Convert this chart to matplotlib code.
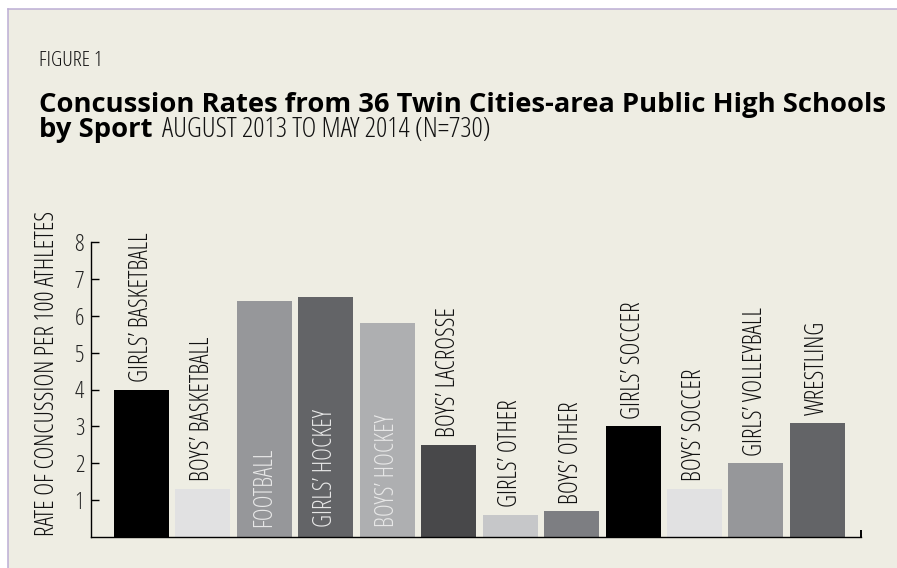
import matplotlib
matplotlib.use("Agg")
import matplotlib.pyplot as plt
from matplotlib.font_manager import FontProperties
from matplotlib.patches import Rectangle
from matplotlib.lines import Line2D

# ---- data ----
sports = ["GIRLS\u2019 BASKETBALL", "BOYS\u2019 BASKETBALL", "FOOTBALL", "GIRLS\u2019 HOCKEY",
          "BOYS\u2019 HOCKEY", "BOYS\u2019 LACROSSE", "GIRLS\u2019 OTHER", "BOYS\u2019 OTHER",
          "GIRLS\u2019 SOCCER", "BOYS\u2019 SOCCER", "GIRLS\u2019 VOLLEYBALL", "WRESTLING"]
rates = [4.0, 1.3, 6.4, 6.5, 5.8, 2.5, 0.6, 0.7, 3.0, 1.3, 2.0, 3.1]
label_inside = [False, False, True, True, True, False, False, False, False, False, False, False]
bar_colors = ["#000000", "#e1e1e2", "#96979a", "#636467", "#aeafb1", "#48484a",
              "#c6c7c9", "#7d7e82", "#000000", "#e1e1e2", "#96979a", "#636467"]
yticks = [1, 2, 3, 4, 5, 6, 7, 8]

W, H = 897, 568
fig = plt.figure(figsize=(W / 100, H / 100), dpi=100, facecolor="white")
fig.canvas.draw()
R = fig.canvas.get_renderer()

LIGHT = dict(family="Open Sans", weight=300, stretch="semi-condensed")
BOLD = dict(family="Open Sans", weight="bold")


def fx(px):
    return px / W


def fy(py):
    return 1 - py / H


def fitted(text, target_len, style):
    """Font properties of the given style sized so the text spans target_len pixels."""
    fp = FontProperties(size=10, **style)
    t = fig.text(0, 0, text, fontproperties=fp)
    w = t.get_window_extent(R).width
    t.remove()
    return FontProperties(size=10 * target_len / w, **style)


# panel background with border (top and left edges visible)
fig.add_artist(Rectangle((fx(8), 0), 1 - fx(8), fy(9), transform=fig.transFigure,
                         facecolor="#eeede3", edgecolor="none", zorder=-5))
fig.add_artist(Line2D([fx(8), 1], [fy(9), fy(9)], transform=fig.transFigure, color="#bcaed4",
                      lw=1.1, zorder=-4))
fig.add_artist(Line2D([fx(8), fx(8)], [0, fy(9)], transform=fig.transFigure, color="#bcaed4",
                      lw=1.1, zorder=-4))

fig.text(fx(39), fy(66), "FIGURE 1", fontproperties=fitted("FIGURE 1", 64, LIGHT),
         color="#111111", ha="left", va="baseline")

title1 = "Concussion Rates from 36 Twin Cities-area Public High Schools"
fp_bold = fitted(title1, 847, BOLD)
fig.text(fx(39), fy(112), title1, fontproperties=fp_bold, color="#000000", ha="left", va="baseline")
t2 = fig.text(fx(39), fy(137), "by Sport", fontproperties=fp_bold, color="#000000",
              ha="left", va="baseline")
bb2 = t2.get_window_extent(R)
sub = "AUGUST 2013 TO MAY 2014 (N=730)"
fig.text(fx(bb2.x1 + 9), fy(137), sub, fontproperties=fitted(sub, 328, LIGHT), color="#111111",
         ha="left", va="baseline")

# axes
x0, x1 = -0.82, 11.71
ax_left, ax_right = 91, 861
y_zero, y_eight = 537, 242
ax = fig.add_axes([fx(ax_left), fy(y_zero), (ax_right - ax_left) / W, (y_zero - y_eight) / H])
ax.set_facecolor("none")
xs = list(range(len(sports)))
ax.bar(xs, rates, width=0.895, color=bar_colors, zorder=2)
ax.set_xlim(x0, x1)
ax.set_ylim(0, 8)
for sp in ["top", "right"]:
    ax.spines[sp].set_visible(False)
for sp in ["left", "bottom"]:
    ax.spines[sp].set_linewidth(1.0)
    ax.spines[sp].set_color("#000000")
ax.set_xticks([])
ax.set_yticks(yticks)
ax.set_yticklabels([str(v) for v in yticks])
ax.tick_params(axis="y", direction="in", length=5.5, width=1.0, pad=5, colors="#000000")
fp_tick = FontProperties(size=17, **LIGHT)
for lab in ax.get_yticklabels():
    lab.set_fontproperties(fp_tick)
    lab.set_color("#222222")
# small end tick at right of baseline
ax.plot([x1, x1], [0, 0.19], color="#000000", lw=1.4, clip_on=False, solid_capstyle="butt")

# bar labels
fp_lbl = fitted(sports[0], 151, LIGHT)
for x, v, lab, inside in zip(xs, rates, sports, label_inside):
    if inside:
        ax.annotate(lab, (x, 0), xytext=(0, 7.5), textcoords="offset points", rotation=90,
                    ha="center", va="bottom", color="#e8e8e8", fontproperties=fp_lbl, zorder=3)
    else:
        ax.annotate(lab, (x, v), xytext=(0, 5.5), textcoords="offset points", rotation=90,
                    ha="center", va="bottom", color="#111111", fontproperties=fp_lbl, zorder=3,
                    annotation_clip=False)

ylab = "RATE OF CONCUSSION PER 100 ATHLETES"
fig.text(fx(48), fy(373.5), ylab, rotation=90, ha="center", va="center",
         fontproperties=fitted(ylab, 327, LIGHT), color="#111111")

fig.savefig("out.png", dpi=100, facecolor="white")
